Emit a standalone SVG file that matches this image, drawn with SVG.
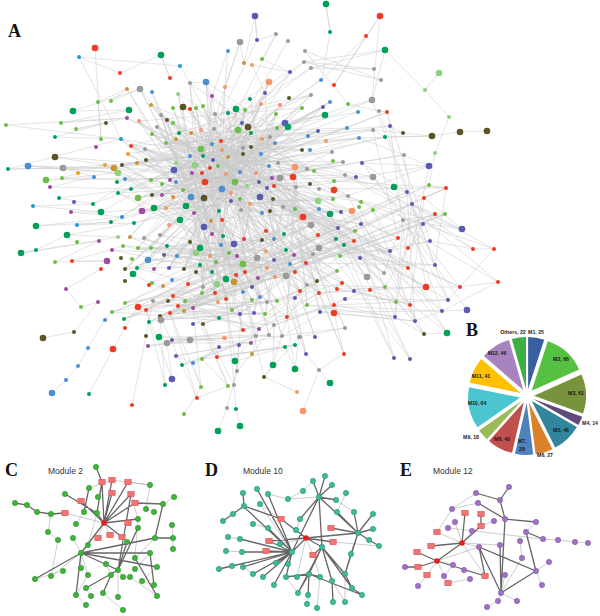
<svg xmlns="http://www.w3.org/2000/svg" width="600" height="616" viewBox="0 0 600 616">
<style>
.ea{fill:none;stroke:#c9c9c9;stroke-width:.5}
.g{fill:#00a055}.l{fill:#6abf45}.p{fill:#8fd17f}.r{fill:#ef3b24}.b{fill:#4a8ed6}.v{fill:#5a5ab4}.y{fill:#9a9a9a}.o{fill:#5b5526}.s{fill:#f5956a}.d{fill:#c99530}.m{fill:#a04aa0}.c{fill:#1e9ad6}.n{fill:#f39a2b}
.ek{fill:none;stroke:#666;stroke-width:1.3}
.et{fill:none;stroke:#aaa;stroke-width:.6}
.mc{fill:#3fb33a;stroke:#2a8a28;stroke-width:.5}
.md{fill:#3dbb95;stroke:#248a6a;stroke-width:.5}
.me{fill:#a070c4;stroke:#7d50a0;stroke-width:.5}
.sq{fill:#f07474;stroke:#d24a4a;stroke-width:.5}
.ctr{fill:#e41e1e}
.big{font-family:"Liberation Serif",serif;font-weight:bold;font-size:18px;fill:#111}
.mod{font-family:"Liberation Sans",Arial,sans-serif;font-size:8.5px;fill:#333}
.pl{font-family:"Liberation Sans",Arial,sans-serif;font-weight:bold;font-size:5.2px;fill:#1a1a1a;text-anchor:middle}
</style>
<defs>
<rect id="sqr" x="-3.2" y="-2.7" width="6.4" height="5.4"/>
</defs>
<rect width="600" height="616" fill="#fff"/>
<g id="connectors-A">
<path class="ea" d="M240,42L203,156L330,214L173,123L295,209L121,139L269,166L161,115L311,225L151,180L285,123L118,193L334,181L183,107L256,173L131,146L303,217L215,114L222,189L142,211L348,196L190,83L262,213L105,165L319,189L212,96L226,174L154,208L373,177L176,139L283,207L137,163L361,202L201,130"/>
<path class="ea" d="M257,40L192,173L302,150L166,143L296,187L114,168L275,143L180,220L341,212L196,108L259,182L134,223L310,184L228,113L173,197L318,201L152,134L280,178L125,179L345,175L206,82L231,201L162,184L323,107L243,148L111,222L307,169L178,94L250,204L128,154L358,112L218,166L194,213L288,127"/>
<path class="ea" d="M276,34L213,160L314,171L122,165L270,137L186,206L248,127L101,212L333,199L236,109L170,180L304,62L191,133L293,177L157,127L338,228L210,168L145,149L273,199L167,120L352,211L240,172L117,182L311,95L204,198L261,154L138,198L359,138L176,163L267,188L127,118L319,209L222,150"/>
<path class="ea" d="M288,41L205,182L343,162L146,160L242,123L166,208L330,102L183,190L262,139L93,204L311,68L201,149L295,167L151,105L247,186L122,217L321,80L195,165L277,128L162,195L318,131L212,144L272,178L131,189L251,133L169,225L332,152L174,170L260,197L139,121L302,108L221,141L274,186L152,195"/>
<path class="ea" d="M219,211L245,272L160,235L294,255L123,246L286,276L196,253L274,239L151,248L257,258L112,250L236,275L221,245L169,268L290,264L138,248L266,251L200,248L125,269L243,264L184,269L262,240L167,246L295,272L130,237L226,279L144,238L216,262L164,255L267,268L148,260L229,253L190,242L212,272"/>
<path class="ea" d="M203,156L234,282L176,139L258,278L154,208L275,277L118,193L244,239L256,173L177,256L311,225L163,286L218,302L180,220L252,300L137,268L284,234L202,293L222,189L188,284L266,231L149,285L241,210L217,284L193,308L250,204L232,310L173,296L274,260L185,301L287,317L210,256"/>
<path class="ea" d="M153,301L259,329L168,301L226,299L170,313L265,314L184,311L243,292L160,316L277,301L178,306L240,314L161,320L254,313L193,324L260,297L203,324L219,318L146,310L252,287L138,307L267,302L149,322L215,293L124,319L203,287L125,303L286,276L112,312L274,325L196,272L256,336L133,274"/>
<path class="ea" d="M300,291L336,239L384,273L318,235L408,268L344,245L367,277L319,248L390,251L313,254L435,265L306,263L398,238L340,256L430,241L360,258L307,285L385,287L319,293L426,287L337,289L396,302L354,291L410,305L370,290L345,299L448,300L334,305L395,317L307,305L442,311L320,312L415,321L334,313"/>
<path class="ea" d="M311,225L426,287L295,209L460,287L283,207L448,300L403,220L395,317L361,224L442,311L338,228L424,334L319,209L394,358L330,214L410,359L303,217L447,333L373,210L415,321L348,196L429,166L334,181L446,188L319,189L462,229L345,175L473,249L412,204L494,249L361,202L498,282L373,177L467,310"/>
<path class="ea" d="M6,125L121,139L8,169L114,168L28,166L118,173L46,180L125,179L62,178L105,165L55,157L137,163L63,168L94,177L50,187L131,189L59,198L93,204L33,206L101,212L71,212L122,217L36,226L111,222L77,225L134,223L67,235L118,237L21,253L99,241L55,262L107,261L72,261L123,246"/>
<path class="ea" d="M95,48L101,139L98,102L127,89L111,101L140,89L73,111L129,110L61,123L127,118L76,129L106,123L55,137L121,139L79,57L120,73L161,55L170,78L180,66L190,83L206,82L212,96L228,51L225,87L240,42L244,63L255,16L257,40L276,34L262,59L290,72L252,65L265,93L269,82"/>
<path class="ea" d="M326,4L330,32L322,80L366,36L334,85L380,16L372,100L385,50L311,68L374,69L304,62L381,80L305,51L348,104L379,111L387,112L390,126L403,133L373,130L385,137L432,136L359,138L404,155L429,166L362,163L407,192L424,198L446,188L429,185L412,204L435,214L423,224L445,214L403,220"/>
<path class="ea" d="M303,411L319,370L306,354L299,337M330,383L319,370L344,354L334,313M273,365L264,377L297,392M295,369L285,347L269,335M218,431L227,408L237,371L252,354M240,426L236,409L234,385L239,345M184,414L201,387L193,363L176,356M197,398L228,386L202,359M132,405L146,336L153,301M172,379L165,385M172,379L167,343L190,340M89,394L113,349L125,328L138,307M52,393L66,380L78,366L88,348L105,320L112,312M43,338L74,332L98,302L81,307L66,289L101,269M21,253L36,250L67,235M487,131L460,132L432,136L403,133M439,73L425,90L449,117L435,153L429,185M385,50L425,90M255,16L257,40M380,16L366,36M326,4L330,32M79,57L180,66M8,169L63,168L114,168M28,166L118,173M6,125L127,118M462,229L424,198M462,229L403,220M494,249L473,249L430,241M498,282L460,287L426,287M467,310L442,311L415,321M447,333L424,334L395,317M494,249L448,300M498,282L442,311M385,50L304,62M161,55L170,78"/>
<path class="ea" d="M167,343L251,343L159,337L269,335L190,340L225,338L148,346L243,330L172,340L282,336L176,356L239,345L182,365L256,336L193,363L219,347L202,359L295,345L217,357L285,347L235,361L259,329L252,354L274,325L273,365L287,317L295,369L299,337L264,377L243,292L237,371L226,299L234,385L203,324L228,386L193,308L201,387L170,313L197,398L160,316L165,385L146,310L172,379"/>
<path class="ea" d="M215,114L311,95L131,146L373,130L174,170L347,128L191,133L302,150L146,160L325,115L166,143L390,126L122,165L359,138L201,149L372,100L228,157L318,131L154,208L343,162L176,182L385,137L138,198L404,155L162,195L330,102L183,190L387,112L205,182L356,177L222,150L407,192"/>
<path class="ea" d="M251,133L151,248L280,105L138,248L261,104L190,242L236,109L221,245L276,114L244,239L242,123L160,235L285,123L200,248L265,93L274,239L250,99L130,237L290,72L169,268L269,82L184,269L245,110L144,238L288,127L125,269L262,139L177,256L270,137L212,272L275,143L196,272"/>
<path class="ea" d="M300,291L219,318L306,263L240,314L313,254L252,287L318,235L226,279L336,239L258,278L344,245L267,268L354,241L274,260L340,256L265,314L337,271L277,301L342,283L287,317L317,281L295,298L307,285L259,329L319,293L243,330L334,305L274,325L345,299L282,336L345,328L299,337"/>
<path class="ea" d="M372,100L448,300M379,111L435,265M387,112L430,241M390,126L408,268M373,130L398,238M404,155L426,287M362,163L460,287M394,187L442,311M407,192L415,321M412,204L395,317M424,198L410,305M403,220L384,273M423,224L385,287M445,214L408,248M435,214L390,251M446,188L435,265M429,166L408,268M359,207L424,334M352,211L394,358M341,212L410,359M361,224L447,333"/>
<path class="ea" d="M140,89L290,264L151,105L286,276L173,123L274,239L190,109L262,240L203,106L258,278L228,113L245,272L236,109L221,245L245,110L212,272L248,127L196,272L261,104L184,269L276,114L169,268L285,123L154,269L288,127L137,268L302,108L125,269L311,95L133,274L323,107L148,260"/>
<path class="ea" d="M367,277L215,114L384,273L201,130L408,268L191,133L398,238L176,139L390,251L166,143L354,241L157,127L360,258L145,149L340,256L131,146L337,271L128,154L342,283L122,165L317,281L114,168L307,285L105,165L300,291L121,139L319,293L139,121L337,289L152,134L354,291L161,115"/>
<path class="ea" d="M179,133L243,330L201,149L256,336L212,144L269,335L221,141L282,336L222,150L299,337L243,148L315,337L251,147L306,354L261,154L344,354L269,166L345,328L278,163L334,313L280,178L320,312L293,177L307,305L295,167L287,317L296,187L265,314L283,207L254,313L273,199L240,314"/>
<path class="ea" d="M330,214L146,310L319,209L138,307L303,217L125,303L311,225L124,319L338,228L112,312L361,224L149,322L373,210L160,316L403,220L161,320L412,204L170,313L423,224L178,306L435,214L184,311L445,214L193,308L446,188L185,301L429,185L168,301L407,192L153,301"/>
<path class="ea" d="M203,156L300,291L213,160L307,285L218,166L317,281L226,174L319,248L235,182L313,254L247,186L306,263L259,182L318,235L267,188L336,239L274,186L344,245L272,178L354,241L260,197L355,231L273,199L311,225L283,207L338,228L250,204L361,224L241,210L341,212L231,201L352,211"/>
<path class="ea" d="M183,107L203,287L190,83L215,293L178,94L226,299L167,120L218,302L161,115L232,310L152,92L243,292L140,89L252,300L127,89L260,297L139,121L267,302L145,149L277,301L157,127L252,287L173,108L234,282L196,108L226,279L206,82L217,284L225,87L202,293L212,96L188,284"/>
</g>
<g id="nodes-A">
<circle class="v" cx="255" cy="16" r="3.3"/><circle class="y" cx="276" cy="34" r="2"/><circle class="v" cx="257" cy="40" r="2"/><circle class="y" cx="240" cy="42" r="3.3"/><circle class="y" cx="288" cy="41" r="2"/><circle class="b" cx="228" cy="51" r="2"/><circle class="r" cx="95" cy="48" r="3.3"/><circle class="c" cx="79" cy="57" r="2"/><circle class="g" cx="161" cy="55" r="3.3"/><circle class="c" cx="180" cy="66" r="2"/><circle class="r" cx="120" cy="73" r="2"/><circle class="r" cx="170" cy="78" r="2"/><circle class="b" cx="206" cy="82" r="3.3"/><circle class="y" cx="190" cy="83" r="2"/><circle class="d" cx="244" cy="63" r="2"/><circle class="s" cx="252" cy="65" r="2"/><circle class="l" cx="262" cy="59" r="2"/><circle class="s" cx="269" cy="82" r="3.3"/><circle class="v" cx="290" cy="72" r="2"/><circle class="y" cx="140" cy="89" r="3.3"/><circle class="d" cx="127" cy="89" r="2"/><circle class="b" cx="152" cy="92" r="2"/><circle class="s" cx="225" cy="87" r="2"/><circle class="m" cx="212" cy="96" r="2"/><circle class="v" cx="265" cy="93" r="2"/><circle class="o" cx="289" cy="98" r="2"/><circle class="g" cx="250" cy="99" r="2"/><circle class="p" cx="178" cy="94" r="2"/><circle class="l" cx="98" cy="102" r="2"/><circle class="l" cx="111" cy="101" r="2"/><circle class="g" cx="73" cy="111" r="3.3"/><circle class="g" cx="129" cy="110" r="3.3"/><circle class="d" cx="151" cy="105" r="2"/><circle class="o" cx="183" cy="107" r="3.3"/><circle class="l" cx="173" cy="108" r="2"/><circle class="r" cx="190" cy="109" r="2"/><circle class="l" cx="196" cy="108" r="2"/><circle class="l" cx="203" cy="106" r="2"/><circle class="g" cx="236" cy="109" r="3.3"/><circle class="l" cx="245" cy="110" r="2"/><circle class="g" cx="228" cy="113" r="2"/><circle class="s" cx="261" cy="104" r="2"/><circle class="s" cx="280" cy="105" r="2"/><circle class="l" cx="276" cy="114" r="2"/><circle class="y" cx="215" cy="114" r="2"/><circle class="y" cx="161" cy="115" r="2"/><circle class="o" cx="167" cy="120" r="2"/><circle class="l" cx="173" cy="123" r="2"/><circle class="s" cx="139" cy="121" r="2"/><circle class="m" cx="127" cy="118" r="2"/><circle class="l" cx="6" cy="125" r="2"/><circle class="l" cx="61" cy="123" r="2"/><circle class="o" cx="106" cy="123" r="2"/><circle class="l" cx="76" cy="129" r="2"/><circle class="y" cx="157" cy="127" r="2"/><circle class="l" cx="152" cy="134" r="2"/><circle class="g" cx="179" cy="133" r="2"/><circle class="s" cx="201" cy="130" r="2"/><circle class="y" cx="214" cy="129" r="2"/><circle class="l" cx="238" cy="130" r="3.3"/><circle class="v" cx="242" cy="123" r="2"/><circle class="o" cx="248" cy="127" r="3.3"/><circle class="g" cx="251" cy="133" r="2"/><circle class="v" cx="285" cy="123" r="3.3"/><circle class="g" cx="288" cy="127" r="3.3"/><circle class="l" cx="277" cy="128" r="2"/><circle class="s" cx="262" cy="139" r="2"/><circle class="y" cx="270" cy="137" r="2"/><circle class="b" cx="275" cy="143" r="2"/><circle class="g" cx="55" cy="137" r="2"/><circle class="l" cx="101" cy="139" r="2"/><circle class="c" cx="121" cy="139" r="2"/><circle class="m" cx="96" cy="147" r="2"/><circle class="r" cx="131" cy="146" r="2"/><circle class="n" cx="128" cy="154" r="2"/><circle class="y" cx="145" cy="149" r="2"/><circle class="l" cx="166" cy="143" r="2"/><circle class="d" cx="176" cy="139" r="2"/><circle class="d" cx="191" cy="133" r="2"/><circle class="l" cx="201" cy="149" r="3.3"/><circle class="b" cx="212" cy="144" r="2"/><circle class="r" cx="221" cy="141" r="2"/><circle class="s" cx="222" cy="150" r="2"/><circle class="g" cx="203" cy="156" r="2"/><circle class="y" cx="243" cy="148" r="2"/><circle class="o" cx="251" cy="147" r="2"/><circle class="d" cx="228" cy="157" r="2"/><circle class="o" cx="243" cy="154" r="2"/><circle class="b" cx="261" cy="154" r="2"/><circle class="o" cx="55" cy="157" r="3.3"/><circle class="b" cx="28" cy="166" r="3.3"/><circle class="g" cx="8" cy="169" r="2"/><circle class="y" cx="63" cy="168" r="3.3"/><circle class="l" cx="46" cy="180" r="3.3"/><circle class="l" cx="62" cy="178" r="2"/><circle class="m" cx="50" cy="187" r="2"/><circle class="n" cx="78" cy="173" r="2"/><circle class="n" cx="105" cy="165" r="2"/><circle class="d" cx="114" cy="168" r="3.3"/><circle class="o" cx="122" cy="165" r="2"/><circle class="p" cx="118" cy="173" r="3.3"/><circle class="b" cx="125" cy="179" r="2"/><circle class="b" cx="94" cy="177" r="2"/><circle class="g" cx="117" cy="182" r="2"/><circle class="d" cx="137" cy="163" r="2"/><circle class="o" cx="146" cy="160" r="2"/><circle class="v" cx="174" cy="170" r="3.3"/><circle class="p" cx="176" cy="163" r="2"/><circle class="b" cx="190" cy="156" r="2"/><circle class="p" cx="195" cy="165" r="3.3"/><circle class="m" cx="192" cy="173" r="2"/><circle class="r" cx="202" cy="173" r="2"/><circle class="r" cx="210" cy="168" r="2"/><circle class="l" cx="218" cy="166" r="2"/><circle class="v" cx="213" cy="160" r="2"/><circle class="s" cx="226" cy="174" r="2"/><circle class="b" cx="240" cy="172" r="2"/><circle class="s" cx="256" cy="173" r="2"/><circle class="b" cx="269" cy="166" r="2"/><circle class="y" cx="278" cy="163" r="2"/><circle class="y" cx="280" cy="178" r="3.3"/><circle class="r" cx="293" cy="177" r="3.3"/><circle class="s" cx="295" cy="167" r="3.3"/><circle class="m" cx="272" cy="178" r="2"/><circle class="r" cx="274" cy="186" r="2"/><circle class="v" cx="267" cy="188" r="2"/><circle class="v" cx="259" cy="182" r="2"/><circle class="l" cx="235" cy="182" r="3.3"/><circle class="p" cx="247" cy="186" r="2"/><circle class="r" cx="205" cy="182" r="3.3"/><circle class="b" cx="222" cy="189" r="3.3"/><circle class="s" cx="231" cy="193" r="2"/><circle class="l" cx="240" cy="199" r="2"/><circle class="v" cx="231" cy="201" r="2"/><circle class="v" cx="260" cy="197" r="3.3"/><circle class="o" cx="273" cy="199" r="2"/><circle class="y" cx="283" cy="207" r="2"/><circle class="l" cx="295" cy="209" r="2"/><circle class="y" cx="296" cy="187" r="2"/><circle class="l" cx="183" cy="190" r="2"/><circle class="b" cx="191" cy="197" r="3.3"/><circle class="o" cx="204" cy="198" r="3.3"/><circle class="d" cx="173" cy="197" r="2"/><circle class="l" cx="162" cy="184" r="2"/><circle class="m" cx="170" cy="180" r="2"/><circle class="b" cx="176" cy="182" r="2"/><circle class="l" cx="151" cy="180" r="2"/><circle class="o" cx="152" cy="195" r="2"/><circle class="m" cx="162" cy="195" r="2"/><circle class="l" cx="138" cy="198" r="3.3"/><circle class="g" cx="131" cy="189" r="2"/><circle class="g" cx="118" cy="193" r="2"/><circle class="m" cx="142" cy="211" r="3.3"/><circle class="g" cx="154" cy="208" r="3.3"/><circle class="s" cx="166" cy="208" r="2"/><circle class="g" cx="186" cy="206" r="3.3"/><circle class="m" cx="194" cy="213" r="2"/><circle class="g" cx="219" cy="211" r="2"/><circle class="s" cx="250" cy="204" r="2"/><circle class="y" cx="241" cy="210" r="2"/><circle class="b" cx="262" cy="213" r="2"/><circle class="o" cx="270" cy="211" r="2"/><circle class="g" cx="180" cy="220" r="3.3"/><circle class="s" cx="169" cy="225" r="2"/><circle class="d" cx="211" cy="221" r="2"/><circle class="v" cx="204" cy="227" r="3.3"/><circle class="r" cx="222" cy="220" r="2"/><circle class="g" cx="101" cy="212" r="3.3"/><circle class="c" cx="122" cy="217" r="2"/><circle class="g" cx="111" cy="222" r="2"/><circle class="g" cx="134" cy="223" r="2"/><circle class="c" cx="77" cy="225" r="2"/><circle class="m" cx="71" cy="212" r="2"/><circle class="v" cx="74" cy="202" r="2"/><circle class="g" cx="59" cy="198" r="2"/><circle class="c" cx="33" cy="206" r="2"/><circle class="g" cx="36" cy="226" r="3.3"/><circle class="g" cx="93" cy="204" r="2"/>
<circle class="g" cx="326" cy="4" r="3.3"/><circle class="g" cx="330" cy="32" r="2"/><circle class="r" cx="380" cy="16" r="3.3"/><circle class="r" cx="366" cy="36" r="2"/><circle class="g" cx="385" cy="50" r="3.3"/><circle class="y" cx="305" cy="51" r="2"/><circle class="y" cx="304" cy="62" r="2"/><circle class="y" cx="311" cy="68" r="2"/><circle class="y" cx="374" cy="69" r="2"/><circle class="y" cx="381" cy="80" r="2"/><circle class="b" cx="321" cy="80" r="2"/><circle class="r" cx="334" cy="85" r="2"/><circle class="p" cx="439" cy="73" r="3.3"/><circle class="p" cx="425" cy="90" r="2"/><circle class="y" cx="311" cy="95" r="2"/><circle class="b" cx="330" cy="102" r="2"/><circle class="v" cx="323" cy="107" r="2"/><circle class="l" cx="348" cy="104" r="2"/><circle class="y" cx="372" cy="100" r="3.3"/><circle class="l" cx="302" cy="108" r="2"/><circle class="g" cx="325" cy="115" r="3.3"/><circle class="y" cx="379" cy="111" r="2"/><circle class="r" cx="387" cy="112" r="2"/><circle class="b" cx="358" cy="112" r="2"/><circle class="p" cx="449" cy="117" r="2"/><circle class="v" cx="318" cy="131" r="2"/><circle class="b" cx="347" cy="128" r="2"/><circle class="v" cx="390" cy="126" r="2"/><circle class="y" cx="373" cy="130" r="2"/><circle class="o" cx="403" cy="133" r="2"/><circle class="o" cx="432" cy="136" r="3.3"/><circle class="o" cx="460" cy="132" r="3.3"/><circle class="o" cx="487" cy="131" r="3.3"/><circle class="b" cx="308" cy="136" r="2"/><circle class="b" cx="359" cy="138" r="2"/><circle class="g" cx="385" cy="137" r="2"/><circle class="s" cx="326" cy="141" r="2"/><circle class="o" cx="302" cy="150" r="2"/><circle class="b" cx="310" cy="150" r="2"/><circle class="y" cx="332" cy="152" r="2"/><circle class="p" cx="435" cy="153" r="2"/><circle class="y" cx="404" cy="155" r="2"/><circle class="v" cx="362" cy="163" r="2"/><circle class="y" cx="343" cy="162" r="2"/><circle class="l" cx="333" cy="161" r="2"/><circle class="v" cx="429" cy="166" r="3.3"/><circle class="y" cx="307" cy="169" r="2"/><circle class="l" cx="314" cy="171" r="2"/><circle class="y" cx="345" cy="175" r="2"/><circle class="v" cx="356" cy="177" r="2"/><circle class="y" cx="373" cy="177" r="3.3"/><circle class="l" cx="334" cy="181" r="2"/><circle class="o" cx="310" cy="184" r="2"/><circle class="g" cx="394" cy="187" r="3.3"/><circle class="l" cx="429" cy="185" r="2"/><circle class="r" cx="446" cy="188" r="2"/><circle class="v" cx="407" cy="192" r="2"/><circle class="y" cx="319" cy="189" r="2"/><circle class="r" cx="334" cy="190" r="3.3"/><circle class="y" cx="348" cy="196" r="2"/><circle class="r" cx="424" cy="198" r="2"/><circle class="p" cx="318" cy="201" r="3.3"/><circle class="l" cx="333" cy="199" r="2"/><circle class="l" cx="361" cy="202" r="2"/><circle class="v" cx="412" cy="204" r="2"/><circle class="l" cx="359" cy="207" r="2"/><circle class="l" cx="373" cy="210" r="2"/><circle class="s" cx="352" cy="211" r="3.3"/><circle class="v" cx="341" cy="212" r="2"/><circle class="g" cx="330" cy="214" r="3.3"/><circle class="b" cx="319" cy="209" r="2"/><circle class="r" cx="303" cy="217" r="3.3"/><circle class="r" cx="435" cy="214" r="2"/><circle class="l" cx="445" cy="214" r="2"/><circle class="y" cx="403" cy="220" r="2"/><circle class="v" cx="423" cy="224" r="2"/><circle class="v" cx="361" cy="224" r="2"/><circle class="y" cx="311" cy="225" r="3.3"/><circle class="v" cx="338" cy="228" r="2"/><circle class="v" cx="462" cy="229" r="3.3"/>
<circle class="g" cx="67" cy="235" r="3.3"/><circle class="l" cx="77" cy="242" r="2"/><circle class="m" cx="99" cy="241" r="2"/><circle class="g" cx="21" cy="253" r="3.3"/><circle class="g" cx="36" cy="250" r="2"/><circle class="l" cx="55" cy="262" r="2"/><circle class="r" cx="72" cy="261" r="2"/><circle class="m" cx="107" cy="261" r="3.3"/><circle class="r" cx="101" cy="269" r="2"/><circle class="m" cx="112" cy="250" r="2"/><circle class="p" cx="118" cy="237" r="2"/><circle class="l" cx="123" cy="246" r="2"/><circle class="d" cx="130" cy="237" r="2"/><circle class="y" cx="144" cy="238" r="2"/><circle class="y" cx="160" cy="235" r="2"/><circle class="g" cx="167" cy="246" r="2"/><circle class="l" cx="151" cy="248" r="2"/><circle class="l" cx="138" cy="248" r="2"/><circle class="o" cx="121" cy="258" r="2"/><circle class="l" cx="132" cy="259" r="2"/><circle class="g" cx="137" cy="268" r="2"/><circle class="o" cx="125" cy="269" r="2"/><circle class="b" cx="148" cy="260" r="3.3"/><circle class="m" cx="154" cy="269" r="2"/><circle class="v" cx="164" cy="255" r="2"/><circle class="v" cx="169" cy="268" r="2"/><circle class="b" cx="177" cy="256" r="2"/><circle class="o" cx="184" cy="269" r="2"/><circle class="o" cx="190" cy="242" r="2"/><circle class="g" cx="200" cy="248" r="3.3"/><circle class="p" cx="196" cy="253" r="3.3"/><circle class="g" cx="200" cy="265" r="2"/><circle class="s" cx="210" cy="256" r="2"/><circle class="l" cx="216" cy="262" r="2"/><circle class="b" cx="221" cy="245" r="2"/><circle class="g" cx="223" cy="236" r="2"/><circle class="m" cx="212" cy="234" r="2"/><circle class="l" cx="229" cy="253" r="2"/><circle class="v" cx="234" cy="244" r="3.3"/><circle class="m" cx="237" cy="256" r="2"/><circle class="l" cx="243" cy="264" r="3.3"/><circle class="r" cx="244" cy="239" r="2"/><circle class="o" cx="262" cy="240" r="2"/><circle class="b" cx="274" cy="239" r="2"/><circle class="g" cx="284" cy="234" r="2"/><circle class="r" cx="266" cy="231" r="2"/><circle class="g" cx="286" cy="250" r="2"/><circle class="m" cx="294" cy="255" r="2"/><circle class="v" cx="274" cy="260" r="2"/><circle class="y" cx="257" cy="258" r="3.3"/><circle class="s" cx="266" cy="251" r="2"/><circle class="b" cx="290" cy="264" r="2"/><circle class="r" cx="295" cy="272" r="2"/><circle class="y" cx="286" cy="276" r="3.3"/><circle class="s" cx="275" cy="277" r="2"/><circle class="s" cx="267" cy="268" r="2"/><circle class="m" cx="258" cy="278" r="2"/><circle class="r" cx="245" cy="272" r="2"/><circle class="r" cx="236" cy="275" r="2"/><circle class="g" cx="212" cy="272" r="2"/><circle class="g" cx="226" cy="279" r="3.3"/><circle class="d" cx="234" cy="282" r="3.3"/><circle class="p" cx="217" cy="284" r="3.3"/><circle class="o" cx="196" cy="272" r="2"/><circle class="b" cx="172" cy="280" r="2"/><circle class="o" cx="125" cy="281" r="2"/><circle class="g" cx="133" cy="274" r="3.3"/><circle class="l" cx="152" cy="283" r="2"/><circle class="r" cx="149" cy="285" r="2"/><circle class="d" cx="163" cy="286" r="2"/><circle class="r" cx="188" cy="284" r="2"/><circle class="y" cx="203" cy="287" r="2"/><circle class="l" cx="202" cy="293" r="2"/><circle class="r" cx="215" cy="293" r="2"/><circle class="b" cx="243" cy="292" r="2"/><circle class="v" cx="252" cy="287" r="2"/><circle class="b" cx="260" cy="297" r="2"/><circle class="l" cx="252" cy="300" r="2"/><circle class="y" cx="267" cy="302" r="2"/><circle class="l" cx="277" cy="301" r="2"/><circle class="v" cx="295" cy="298" r="2"/><circle class="r" cx="226" cy="299" r="2"/><circle class="s" cx="218" cy="302" r="2"/><circle class="l" cx="232" cy="310" r="2"/><circle class="v" cx="240" cy="314" r="2"/><circle class="v" cx="254" cy="313" r="2"/><circle class="l" cx="265" cy="314" r="2"/><circle class="r" cx="287" cy="317" r="2"/><circle class="y" cx="274" cy="325" r="2"/><circle class="m" cx="259" cy="329" r="2"/><circle class="y" cx="256" cy="336" r="2"/><circle class="y" cx="269" cy="335" r="2"/><circle class="y" cx="282" cy="336" r="2"/><circle class="y" cx="299" cy="337" r="2"/><circle class="r" cx="243" cy="330" r="2"/><circle class="s" cx="224" cy="338" r="2"/><circle class="v" cx="239" cy="345" r="2"/><circle class="m" cx="251" cy="343" r="2"/><circle class="v" cx="219" cy="347" r="2"/><circle class="g" cx="219" cy="318" r="2"/><circle class="o" cx="203" cy="324" r="2"/><circle class="v" cx="193" cy="324" r="2"/><circle class="m" cx="193" cy="308" r="2"/><circle class="d" cx="184" cy="311" r="2"/><circle class="r" cx="178" cy="306" r="2"/><circle class="r" cx="173" cy="296" r="2"/><circle class="r" cx="170" cy="313" r="2"/><circle class="l" cx="185" cy="301" r="2"/><circle class="o" cx="168" cy="301" r="2"/><circle class="y" cx="153" cy="301" r="2"/><circle class="o" cx="160" cy="316" r="2"/><circle class="y" cx="161" cy="320" r="3.3"/><circle class="r" cx="146" cy="310" r="2"/><circle class="r" cx="138" cy="307" r="3.3"/><circle class="g" cx="149" cy="322" r="2"/><circle class="l" cx="125" cy="303" r="2"/><circle class="g" cx="124" cy="319" r="2"/><circle class="l" cx="112" cy="312" r="2"/><circle class="r" cx="125" cy="328" r="2"/><circle class="o" cx="146" cy="336" r="2"/><circle class="g" cx="159" cy="337" r="3.3"/><circle class="y" cx="167" cy="343" r="3.3"/><circle class="v" cx="172" cy="340" r="2"/><circle class="y" cx="190" cy="340" r="3.3"/><circle class="m" cx="148" cy="346" r="2"/><circle class="r" cx="113" cy="349" r="3.3"/><circle class="b" cx="105" cy="320" r="2"/><circle class="m" cx="98" cy="302" r="2"/><circle class="l" cx="81" cy="307" r="2"/><circle class="m" cx="66" cy="289" r="2"/><circle class="o" cx="74" cy="332" r="2"/><circle class="o" cx="43" cy="338" r="3.3"/><circle class="b" cx="88" cy="348" r="2"/><circle class="b" cx="78" cy="366" r="2"/><circle class="b" cx="66" cy="380" r="2"/><circle class="b" cx="52" cy="393" r="3.3"/><circle class="g" cx="89" cy="394" r="2"/><circle class="r" cx="132" cy="405" r="2"/><circle class="v" cx="172" cy="379" r="3.3"/><circle class="g" cx="165" cy="385" r="2"/><circle class="v" cx="176" cy="356" r="2"/><circle class="g" cx="182" cy="365" r="2"/><circle class="b" cx="193" cy="363" r="2"/><circle class="l" cx="202" cy="359" r="2"/><circle class="r" cx="217" cy="357" r="2"/><circle class="g" cx="235" cy="361" r="3.3"/><circle class="s" cx="225" cy="338" r="2"/><circle class="y" cx="237" cy="371" r="2"/><circle class="y" cx="234" cy="385" r="2"/><circle class="l" cx="228" cy="386" r="2"/><circle class="l" cx="201" cy="387" r="2"/><circle class="r" cx="197" cy="398" r="2"/><circle class="l" cx="184" cy="414" r="2"/><circle class="y" cx="227" cy="408" r="2"/><circle class="g" cx="236" cy="409" r="2"/><circle class="g" cx="218" cy="431" r="3.3"/><circle class="g" cx="240" cy="426" r="3.3"/><circle class="g" cx="273" cy="365" r="3.3"/><circle class="g" cx="295" cy="369" r="3.3"/><circle class="o" cx="264" cy="377" r="2"/><circle class="d" cx="252" cy="354" r="2"/><circle class="s" cx="297" cy="392" r="2"/><circle class="g" cx="285" cy="347" r="2"/><circle class="g" cx="295" cy="345" r="2"/>
<circle class="r" cx="318" cy="235" r="2"/><circle class="g" cx="336" cy="239" r="2"/><circle class="g" cx="344" cy="245" r="2"/><circle class="r" cx="354" cy="241" r="2"/><circle class="l" cx="355" cy="231" r="2"/><circle class="y" cx="319" cy="248" r="3.3"/><circle class="y" cx="313" cy="254" r="2"/><circle class="r" cx="306" cy="263" r="2"/><circle class="l" cx="340" cy="256" r="2"/><circle class="v" cx="360" cy="258" r="2"/><circle class="r" cx="398" cy="238" r="2"/><circle class="v" cx="430" cy="241" r="2"/><circle class="r" cx="408" cy="248" r="2"/><circle class="v" cx="390" cy="251" r="2"/><circle class="v" cx="435" cy="265" r="2"/><circle class="r" cx="408" cy="268" r="2"/><circle class="y" cx="384" cy="273" r="2"/><circle class="y" cx="367" cy="277" r="3.3"/><circle class="l" cx="337" cy="271" r="2"/><circle class="r" cx="342" cy="283" r="2"/><circle class="o" cx="317" cy="281" r="2"/><circle class="y" cx="307" cy="285" r="2"/><circle class="r" cx="300" cy="291" r="2"/><circle class="r" cx="319" cy="293" r="2"/><circle class="r" cx="337" cy="289" r="2"/><circle class="v" cx="354" cy="291" r="2"/><circle class="r" cx="370" cy="290" r="2"/><circle class="l" cx="385" cy="287" r="2"/><circle class="r" cx="426" cy="287" r="3.3"/><circle class="r" cx="460" cy="287" r="2"/><circle class="l" cx="307" cy="305" r="2"/><circle class="r" cx="334" cy="305" r="2"/><circle class="v" cx="345" cy="299" r="2"/><circle class="l" cx="396" cy="302" r="2"/><circle class="r" cx="410" cy="305" r="2"/><circle class="v" cx="448" cy="300" r="2"/><circle class="v" cx="442" cy="311" r="2"/><circle class="v" cx="320" cy="312" r="2"/><circle class="r" cx="334" cy="313" r="3.3"/><circle class="v" cx="395" cy="317" r="2"/><circle class="v" cx="415" cy="321" r="2"/><circle class="y" cx="345" cy="328" r="2"/><circle class="o" cx="424" cy="334" r="2"/><circle class="g" cx="447" cy="333" r="3.3"/><circle class="y" cx="300" cy="337" r="2"/><circle class="v" cx="315" cy="337" r="2"/><circle class="v" cx="306" cy="354" r="2"/><circle class="r" cx="344" cy="354" r="2"/><circle class="v" cx="394" cy="358" r="2"/><circle class="v" cx="410" cy="359" r="2"/><circle class="y" cx="319" cy="370" r="2"/><circle class="g" cx="330" cy="383" r="3.3"/><circle class="s" cx="303" cy="411" r="3.3"/><circle class="r" cx="473" cy="249" r="2"/><circle class="r" cx="494" cy="249" r="2"/><circle class="r" cx="498" cy="282" r="2"/><circle class="v" cx="467" cy="310" r="3.3"/>
</g>
<text class="big" x="8" y="37">A</text>
<g id="pie-B">
<path id="pOthers" fill="#3cb043" d="M526.03,389.07L511.78,339.06A52,52 0 0 1 526.03,337.07Z"/>
<path id="pM1" fill="#3a5fa0" d="M528.10,389.09L528.10,337.09A52,52 0 0 1 544.23,339.65Z"/>
<path id="pM2" fill="#56c043" d="M531.68,390.79L547.81,341.35A52,52 0 0 1 579.10,369.46Z"/>
<path id="pM3" fill="#77933c" d="M534.00,395.73L581.42,374.40A52,52 0 0 1 582.90,413.41Z"/>
<path id="pM4" fill="#604a7b" d="M533.35,398.95L582.25,416.63A52,52 0 0 1 578.38,424.95Z"/>
<path id="pM5" fill="#31859c" d="M531.81,401.09L576.84,427.09A52,52 0 0 1 555.21,447.53Z"/>
<path id="pM6" fill="#d9822b" d="M529.05,402.69L552.45,449.13A52,52 0 0 1 535.60,454.27Z"/>
<path id="pM7" fill="#4f81bd" d="M526.65,402.99L533.20,454.57A52,52 0 0 1 514.94,453.65Z"/>
<path id="pM8" fill="#c0504d" d="M523.77,402.21L512.06,452.87A52,52 0 0 1 489.02,440.90Z"/>
<path id="pM9" fill="#9bbb59" d="M521.76,400.64L487.01,439.33A52,52 0 0 1 479.19,430.50Z"/>
<path id="pM10" fill="#4bc5cf" d="M520.15,397.45L477.58,427.31A52,52 0 0 1 469.14,387.35Z"/>
<path id="pM11" fill="#ffc000" d="M520.71,392.93L469.70,382.83A52,52 0 0 1 481.35,358.95Z"/>
<path id="pM12" fill="#a783c0" d="M523.24,390.10L483.88,356.12A52,52 0 0 1 508.99,340.09Z"/>
<text class="pl" x="513" y="334">Others, 22</text>
<text class="pl" x="536" y="334">M1, 25</text>
<text class="pl" x="561" y="361">M2, 66</text>
<text class="pl" x="576" y="395">M3, 61</text>
<text class="pl" x="590" y="425">M4, 14</text>
<text class="pl" x="561" y="432">M5, 46</text>
<text class="pl" x="545" y="457">M6, 27</text>
<text class="pl" x="522" y="443">M7,</text>
<text class="pl" x="522" y="451">28</text>
<text class="pl" x="502" y="441">M8, 40</text>
<text class="pl" x="471" y="439">M9, 18</text>
<text class="pl" x="477" y="405">M10, 64</text>
<text class="pl" x="481" y="378">M11, 41</text>
<text class="pl" x="497" y="355">M12, 46</text>
</g>
<text class="big" x="466" y="336">B</text>
<text class="big" x="5" y="476">C</text>
<text class="mod" x="48" y="474">Module 2</text>
<text class="big" x="205" y="476">D</text>
<text class="mod" x="243" y="474">Module 10</text>
<text class="big" x="400" y="476">E</text>
<text class="mod" x="433" y="474">Module 12</text>
<g id="connectors-C">
<path class="et" d="M104,523L65,513M112,480L89,488M112,480L150,485M128,482L150,485M150,485L146,509M163,504L174,497M51,514L48,532L58,540L51,576M81,553L51,576M81,553L88,575M88,545L97,513M88,545L81,553M73,538L81,553M118,570L123,577M118,570L118,597M155,538L135,558M172,525L173,538L173,549M106,564L111,575M103,593L123,610M76,595L86,605M86,588L91,596M130,577L157,596M142,581L154,585M63,571L35,579M88,575L76,595M76,524L84,512M138,519L135,558M104,523L110,535M104,523L98,538M81,568L81,553M131,494L138,519M98,497L102,482M135,569L150,553M157,567L142,581M123,577L130,577M118,570L106,564M154,512L146,509"/>
<path class="ek" d="M104,523L102,482M104,523L112,480M104,523L128,482M104,523L112,493M104,523L131,494M104,523L81,501M104,523L135,503M104,523L97,513M104,523L138,519M104,523L122,537M104,523L81,553M96,467L102,482M102,482L97,513M131,494L118,570M135,503L163,504M163,504L155,538M15,503L27,505L37,512L51,514L65,513M81,553L155,538M81,553L157,567M81,553L118,570M81,553L76,595M81,553L150,553M127,542L118,570M150,553L154,585M155,538L173,538M65,494L97,513M84,512L89,488M118,570L86,588M111,575L103,593M135,558L157,596M138,528L118,570M81,553L35,579"/>
</g>
<g id="nodes-C">
<circle id="c1" class="mc" cx="96" cy="467" r="2.7"/><circle id="c2" class="mc" cx="89" cy="488" r="2.7"/><circle id="c3" class="mc" cx="150" cy="485" r="2.7"/><circle id="c4" class="mc" cx="65" cy="494" r="2.7"/><circle id="c5" class="mc" cx="98" cy="497" r="2.7"/><circle id="c6" class="mc" cx="174" cy="497" r="2.7"/><circle id="c7" class="mc" cx="15" cy="503" r="2.7"/><circle id="c8" class="mc" cx="27" cy="505" r="2.7"/><circle id="c9" class="mc" cx="37" cy="512" r="2.7"/><circle id="c10" class="mc" cx="51" cy="514" r="2.7"/><circle id="c11" class="mc" cx="84" cy="512" r="2.7"/><circle id="c12" class="mc" cx="97" cy="513" r="2.7"/><circle id="c13" class="mc" cx="146" cy="509" r="2.7"/><circle id="c14" class="mc" cx="154" cy="512" r="2.7"/><circle id="c15" class="mc" cx="163" cy="504" r="2.7"/><circle id="c16" class="mc" cx="138" cy="519" r="2.7"/><circle id="c17" class="mc" cx="76" cy="524" r="2.7"/><circle id="c18" class="mc" cx="138" cy="528" r="2.7"/><circle id="c19" class="mc" cx="172" cy="525" r="2.7"/><circle id="c20" class="mc" cx="48" cy="532" r="2.7"/><circle id="c21" class="mc" cx="58" cy="540" r="2.7"/><circle id="c22" class="mc" cx="73" cy="538" r="2.7"/><circle id="c23" class="mc" cx="88" cy="545" r="2.7"/><circle id="c24" class="mc" cx="127" cy="542" r="2.7"/><circle id="c25" class="mc" cx="155" cy="538" r="2.7"/><circle id="c26" class="mc" cx="173" cy="538" r="2.7"/><circle id="c27" class="mc" cx="173" cy="549" r="2.7"/><circle id="c28" class="mc" cx="81" cy="553" r="2.7"/><circle id="c29" class="mc" cx="150" cy="553" r="2.7"/><circle id="c30" class="mc" cx="135" cy="558" r="2.7"/><circle id="c31" class="mc" cx="106" cy="564" r="2.7"/><circle id="c32" class="mc" cx="81" cy="568" r="2.7"/><circle id="c33" class="mc" cx="118" cy="570" r="2.7"/><circle id="c34" class="mc" cx="135" cy="569" r="2.7"/><circle id="c35" class="mc" cx="157" cy="567" r="2.7"/><circle id="c36" class="mc" cx="51" cy="576" r="2.7"/><circle id="c37" class="mc" cx="35" cy="579" r="2.7"/><circle id="c38" class="mc" cx="63" cy="571" r="2.7"/><circle id="c39" class="mc" cx="88" cy="575" r="2.7"/><circle id="c40" class="mc" cx="111" cy="575" r="2.7"/><circle id="c41" class="mc" cx="123" cy="577" r="2.7"/><circle id="c42" class="mc" cx="130" cy="577" r="2.7"/><circle id="c43" class="mc" cx="142" cy="581" r="2.7"/><circle id="c44" class="mc" cx="154" cy="585" r="2.7"/><circle id="c45" class="mc" cx="86" cy="588" r="2.7"/><circle id="c46" class="mc" cx="103" cy="593" r="2.7"/><circle id="c47" class="mc" cx="118" cy="597" r="2.7"/><circle id="c48" class="mc" cx="76" cy="595" r="2.7"/><circle id="c49" class="mc" cx="91" cy="596" r="2.7"/><circle id="c50" class="mc" cx="157" cy="596" r="2.7"/><circle id="c51" class="mc" cx="86" cy="605" r="2.7"/><circle id="c52" class="mc" cx="123" cy="610" r="2.7"/>
<use id="cs1" href="#sqr" class="sq" x="102" y="482"/><use id="cs2" href="#sqr" class="sq" x="112" y="480"/><use id="cs3" href="#sqr" class="sq" x="128" y="482"/><use id="cs4" href="#sqr" class="sq" x="112" y="493"/><use id="cs5" href="#sqr" class="sq" x="131" y="494"/><use id="cs6" href="#sqr" class="sq" x="81" y="501"/><use id="cs7" href="#sqr" class="sq" x="135" y="503"/><use id="cs8" href="#sqr" class="sq" x="65" y="513"/><use id="cs9" href="#sqr" class="sq" x="128" y="523"/><use id="cs10" href="#sqr" class="sq" x="122" y="537"/><use id="cs11" href="#sqr" class="sq" x="110" y="535"/><use id="cs12" href="#sqr" class="sq" x="98" y="538"/>
<circle id="c0" class="ctr" cx="104" cy="523" r="2.8"/>
</g>
<g id="connectors-D">
<path class="et" d="M268,494L288,499L303,491M303,491L313,481M260,504L292,552M253,524L268,528M228,537L240,539M226,551L242,552M219,569L232,566M300,519L296,530M337,512L346,493M296,530L306,538M306,538L313,555M345,574L345,602M307,604L308,595M317,608L320,577M298,593L286,577M288,564L292,552M297,577L306,538M281,519L260,504M369,540L358,533M345,602L332,581M336,500L354,512M280,544L306,538M288,499L319,497M313,555L320,577M333,542L379,546M243,567L253,574"/>
<path class="ek" d="M292,552L243,506M292,552L257,489M292,552L268,494M292,552L240,539M292,552L242,552M292,552L232,566M292,552L243,567M292,552L253,574M292,552L263,577M292,552L274,585M292,552L276,563M292,552L286,577M292,552L306,538M292,552L269,541M292,552L266,551M292,552L268,528M292,552L319,497M292,552L219,569M358,533L354,512M358,533L373,514M358,533L373,529M358,533L379,546M358,533L306,538M358,533L331,528M358,533L351,554M358,533L319,497M358,533L345,574M358,533L337,512M319,497L325,476M319,497L313,481M319,497L332,485M319,497L336,500M319,497L300,519M319,497L322,547M322,547L306,538M322,547L313,555M322,547L309,574M322,547L332,581M322,547L345,574M322,547L298,593M322,547L352,588M309,574L298,593M309,574L308,595M309,574L320,577M309,574L362,595M309,574L286,577M223,521L233,514L244,506L243,493M244,506L281,519M281,519L306,538M269,541L306,538M306,538L333,542M345,574L352,588L362,595M333,602L332,581M351,554L345,574"/>
</g>
<g id="nodes-D">
<circle id="d1" class="md" cx="325" cy="476" r="2.7"/><circle id="d2" class="md" cx="313" cy="481" r="2.7"/><circle id="d3" class="md" cx="332" cy="485" r="2.7"/><circle id="d4" class="md" cx="243" cy="493" r="2.7"/><circle id="d5" class="md" cx="257" cy="489" r="2.7"/><circle id="d6" class="md" cx="268" cy="494" r="2.7"/><circle id="d7" class="md" cx="303" cy="491" r="2.7"/><circle id="d8" class="md" cx="319" cy="497" r="2.7"/><circle id="d9" class="md" cx="346" cy="493" r="2.7"/><circle id="d10" class="md" cx="288" cy="499" r="2.7"/><circle id="d11" class="md" cx="336" cy="500" r="2.7"/><circle id="d12" class="md" cx="244" cy="506" r="2.7"/><circle id="d13" class="md" cx="260" cy="504" r="2.7"/><circle id="d14" class="md" cx="233" cy="514" r="2.7"/><circle id="d15" class="md" cx="223" cy="521" r="2.7"/><circle id="d16" class="md" cx="253" cy="524" r="2.7"/><circle id="d17" class="md" cx="300" cy="519" r="2.7"/><circle id="d18" class="md" cx="337" cy="512" r="2.7"/><circle id="d19" class="md" cx="354" cy="512" r="2.7"/><circle id="d20" class="md" cx="373" cy="514" r="2.7"/><circle id="d21" class="md" cx="268" cy="528" r="2.7"/><circle id="d22" class="md" cx="296" cy="530" r="2.7"/><circle id="d23" class="md" cx="358" cy="533" r="2.7"/><circle id="d24" class="md" cx="373" cy="529" r="2.7"/><circle id="d25" class="md" cx="228" cy="537" r="2.7"/><circle id="d26" class="md" cx="240" cy="539" r="2.7"/><circle id="d27" class="md" cx="322" cy="547" r="2.7"/><circle id="d28" class="md" cx="369" cy="540" r="2.7"/><circle id="d29" class="md" cx="379" cy="546" r="2.7"/><circle id="d30" class="md" cx="226" cy="551" r="2.7"/><circle id="d31" class="md" cx="242" cy="552" r="2.7"/><circle id="d32" class="md" cx="280" cy="544" r="2.7"/><circle id="d33" class="md" cx="292" cy="552" r="2.7"/><circle id="d34" class="md" cx="351" cy="554" r="2.7"/><circle id="d35" class="md" cx="219" cy="569" r="2.7"/><circle id="d36" class="md" cx="232" cy="566" r="2.7"/><circle id="d37" class="md" cx="243" cy="567" r="2.7"/><circle id="d38" class="md" cx="253" cy="574" r="2.7"/><circle id="d39" class="md" cx="263" cy="577" r="2.7"/><circle id="d40" class="md" cx="276" cy="563" r="2.7"/><circle id="d41" class="md" cx="288" cy="564" r="2.7"/><circle id="d42" class="md" cx="274" cy="585" r="2.7"/><circle id="d43" class="md" cx="286" cy="577" r="2.7"/><circle id="d44" class="md" cx="297" cy="577" r="2.7"/><circle id="d45" class="md" cx="309" cy="574" r="2.7"/><circle id="d46" class="md" cx="320" cy="577" r="2.7"/><circle id="d47" class="md" cx="332" cy="581" r="2.7"/><circle id="d48" class="md" cx="345" cy="574" r="2.7"/><circle id="d49" class="md" cx="352" cy="588" r="2.7"/><circle id="d50" class="md" cx="362" cy="595" r="2.7"/><circle id="d51" class="md" cx="298" cy="593" r="2.7"/><circle id="d52" class="md" cx="308" cy="595" r="2.7"/><circle id="d53" class="md" cx="333" cy="602" r="2.7"/><circle id="d54" class="md" cx="345" cy="602" r="2.7"/><circle id="d55" class="md" cx="307" cy="604" r="2.7"/><circle id="d56" class="md" cx="317" cy="608" r="2.7"/>
<use id="ds1" href="#sqr" class="sq" x="281" y="519"/><use id="ds2" href="#sqr" class="sq" x="331" y="528"/><use id="ds3" href="#sqr" class="sq" x="269" y="541"/><use id="ds4" href="#sqr" class="sq" x="333" y="542"/><use id="ds5" href="#sqr" class="sq" x="266" y="551"/><use id="ds6" href="#sqr" class="sq" x="313" y="555"/>
<circle id="d0" class="ctr" cx="306" cy="538" r="2.8"/>
</g>
<g id="connectors-E">
<path class="et" d="M478,503L452,509M452,509L437,532M476,493L452,509M494,521L481,526M526,532L536,522M543,539L558,540L575,542L588,543M448,528L543,539M462,543L437,532M462,543L479,547M462,543L500,545M462,543L472,531M462,543L485,576M437,561L427,575M437,561L448,583M437,561L453,565M437,561L479,547M418,586L427,575M448,583L470,579M520,541L522,558M536,571L549,562M536,571L542,585M505,575L501,593M501,593L517,601M501,593L498,601L487,607M464,570L485,576M444,576L453,565M455,522L462,543M522,558L501,593"/>
<path class="ek" d="M509,487L500,500M476,493L500,500M478,503L505,519M465,513L462,543M481,514L481,526M481,526L462,543M505,519L536,522M500,500L505,519M526,532L536,571M505,519L501,593M462,543L431,546M462,543L437,561M437,561L417,552M437,561L418,567M437,561L485,576M405,567L418,567M479,547L485,576M479,547L501,593M479,547L536,571M536,571L501,593M500,545L501,593M526,532L543,539"/>
</g>
<g id="nodes-E">
<circle id="e1" class="me" cx="509" cy="487" r="2.7"/><circle id="e2" class="me" cx="476" cy="493" r="2.7"/><circle id="e3" class="me" cx="500" cy="500" r="2.7"/><circle id="e4" class="me" cx="478" cy="503" r="2.7"/><circle id="e5" class="me" cx="452" cy="509" r="2.7"/><circle id="e6" class="me" cx="494" cy="521" r="2.7"/><circle id="e7" class="me" cx="505" cy="519" r="2.7"/><circle id="e8" class="me" cx="455" cy="522" r="2.7"/><circle id="e9" class="me" cx="448" cy="528" r="2.7"/><circle id="e10" class="me" cx="536" cy="522" r="2.7"/><circle id="e11" class="me" cx="472" cy="531" r="2.7"/><circle id="e12" class="me" cx="526" cy="532" r="2.7"/><circle id="e13" class="me" cx="479" cy="547" r="2.7"/><circle id="e14" class="me" cx="500" cy="545" r="2.7"/><circle id="e15" class="me" cx="520" cy="541" r="2.7"/><circle id="e16" class="me" cx="543" cy="539" r="2.7"/><circle id="e17" class="me" cx="558" cy="540" r="2.7"/><circle id="e18" class="me" cx="575" cy="542" r="2.7"/><circle id="e19" class="me" cx="588" cy="543" r="2.7"/><circle id="e20" class="me" cx="522" cy="558" r="2.7"/><circle id="e21" class="me" cx="405" cy="567" r="2.7"/><circle id="e22" class="me" cx="453" cy="565" r="2.7"/><circle id="e23" class="me" cx="464" cy="570" r="2.7"/><circle id="e24" class="me" cx="549" cy="562" r="2.7"/><circle id="e25" class="me" cx="444" cy="576" r="2.7"/><circle id="e26" class="me" cx="470" cy="579" r="2.7"/><circle id="e27" class="me" cx="536" cy="571" r="2.7"/><circle id="e28" class="me" cx="418" cy="586" r="2.7"/><circle id="e29" class="me" cx="505" cy="575" r="2.7"/><circle id="e30" class="me" cx="542" cy="585" r="2.7"/><circle id="e31" class="me" cx="501" cy="593" r="2.7"/><circle id="e32" class="me" cx="517" cy="601" r="2.7"/><circle id="e33" class="me" cx="498" cy="601" r="2.7"/><circle id="e34" class="me" cx="487" cy="607" r="2.7"/>
<use id="es1" href="#sqr" class="sq" x="465" y="513"/><use id="es2" href="#sqr" class="sq" x="481" y="514"/><use id="es3" href="#sqr" class="sq" x="481" y="526"/><use id="es4" href="#sqr" class="sq" x="437" y="532"/><use id="es5" href="#sqr" class="sq" x="431" y="546"/><use id="es6" href="#sqr" class="sq" x="417" y="552"/><use id="es7" href="#sqr" class="sq" x="418" y="567"/><use id="es8" href="#sqr" class="sq" x="427" y="575"/><use id="es9" href="#sqr" class="sq" x="448" y="583"/><use id="es10" href="#sqr" class="sq" x="485" y="576"/>
<circle id="e0a" class="ctr" cx="462" cy="543" r="2.8"/><circle id="e0b" class="ctr" cx="437" cy="561" r="2.8"/>
</g>
</svg>
